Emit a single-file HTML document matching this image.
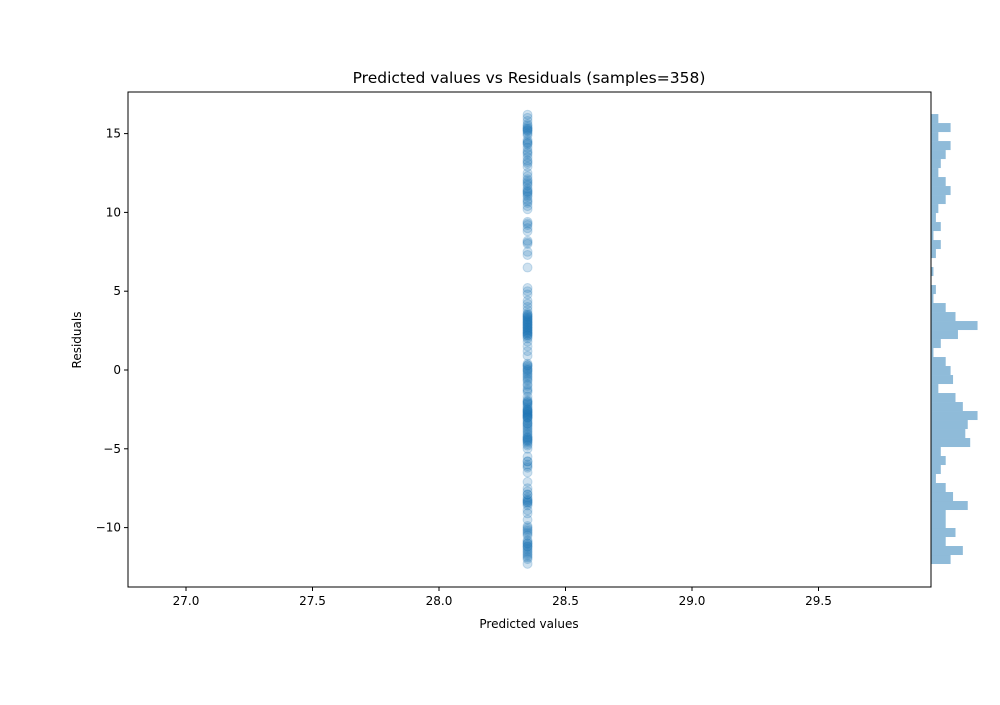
<!DOCTYPE html>
<html><head><meta charset="utf-8"><style>
html,body{margin:0;padding:0;background:#fff;}
svg text{font-family:"DejaVu Sans","Liberation Sans",sans-serif;fill:#000;}
</style></head><body>
<svg id="chart" width="1000" height="700" xmlns="http://www.w3.org/2000/svg">
<rect x="0" y="0" width="1000" height="700" fill="#fff"/>
<g id="scatter"></g>
<g id="hist"></g>
<g id="axes"></g>
<text x="529" y="83" font-size="15.5" text-anchor="middle">Predicted values vs Residuals (samples=358)</text>
<text x="529" y="628" font-size="12" text-anchor="middle">Predicted values</text>
<text transform="translate(81,340) rotate(-90)" font-size="12" text-anchor="middle">Residuals</text>
</svg>
<script>
const xTicks = [27.0, 27.5, 28.0, 28.5, 29.0, 29.5];
const xTickLabels = ["27.0", "27.5", "28.0", "28.5", "29.0", "29.5"];
const yTicks = [15, 10, 5, 0, -5, -10];
const yTickLabels = ["15", "10", "5", "0", "\u22125", "\u221210"];
const predicted = 28.35;
const residuals = [16.2,16.0,15.8,15.6,15.4,15.3,15.2,15.1,14.9,14.6,14.4,14.3,14.1,13.9,13.7,13.5,13.3,13.1,12.9,12.5,12.3,12.1,11.9,11.7,11.5,11.3,11.2,11.0,10.8,10.6,10.4,10.2,9.4,9.2,9.0,8.8,8.2,8.0,7.5,7.3,6.5,5.2,5.0,4.8,4.4,4.2,4.0,3.8,3.6,3.5,3.4,3.3,3.2,3.1,3.0,2.9,2.8,2.7,2.6,2.5,2.4,2.3,2.2,2.1,2.0,1.8,1.5,1.2,0.9,0.4,0.3,0.1,0.0,-0.1,-0.3,-0.5,-0.7,-0.9,-1.0,-1.2,-1.4,-1.7,-1.9,-2.0,-2.1,-2.2,-2.4,-2.5,-2.6,-2.7,-2.8,-2.9,-3.0,-3.1,-3.3,-3.4,-3.5,-3.7,-3.8,-4.0,-4.2,-4.3,-4.4,-4.6,-4.8,-5.0,-5.5,-5.8,-6.0,-6.2,-6.5,-7.1,-7.5,-7.7,-7.9,-8.1,-8.3,-8.4,-8.6,-8.9,-9.1,-9.5,-9.9,-10.1,-10.3,-10.5,-10.8,-11.0,-11.2,-11.4,-11.6,-11.8,-12.0,-12.3,
15.3,15.2,15.5,15.0,14.4,14.5,13.8,13.2,12.0,11.8,11.4,11.3,11.1,10.7,9.3,8.1,3.5,3.3,3.2,3.0,2.9,2.8,2.7,2.6,2.5,2.4,2.3,3.4,3.1,2.2,0.3,0.2,0.0,-0.2,-0.4,-0.6,-1.3,-2.0,-2.1,-2.3,-2.5,-2.6,-2.7,-2.8,-2.9,-3.0,-3.2,-3.4,-3.6,-3.9,-4.1,-4.3,-4.5,-4.7,-2.6,-2.8,-3.0,-4.4,-4.5,-5.8,-6.1,-7.9,-8.2,-8.3,-8.4,-8.5,-10.0,-10.2,-10.4,-11.0,-11.1,-11.3,-11.5,-11.7,-11.9,-11.2,-10.9];
const histCounts = [3,8,3,8,6,4,3,6,8,6,3,2,4,1,4,2,0,1,0,2,1,6,10,19,11,4,1,6,8,9,3,10,13,19,15,14,16,4,6,4,2,6,9,15,6,6,10,6,13,8];
const histTop = 16.24, histBinWidth = 0.571;

const NS = "http://www.w3.org/2000/svg";
const L = 128, R = 931, T = 92, B = 587;
const xScale = v => 439 + (v - 28.0) * 253;
const yScale = v => 370 - v * 15.76;
const hScale = c => c * 2.45;
function mk(tag, attrs, parent) {
  const e = document.createElementNS(NS, tag);
  for (const k in attrs) e.setAttribute(k, attrs[k]);
  parent.appendChild(e);
  return e;
}
const sc = document.getElementById('scatter');
residuals.forEach(r => {
  const c = mk('circle', {cx: xScale(predicted), cy: yScale(r), r: 4.5, fill: '#1f77b4', 'fill-opacity': 0.22, stroke: '#1f77b4', 'stroke-opacity': 0.22}, sc);
  
  
});
const hg = document.getElementById('hist');
histCounts.forEach((cnt, i) => {
  if (!cnt) return;
  const y0 = yScale(histTop - i * histBinWidth), y1 = yScale(histTop - (i + 1) * histBinWidth);
  const b = mk('rect', {x: R, y: y0, width: hScale(cnt), height: y1 - y0, fill: '#1f77b4', 'fill-opacity': 0.5}, hg);
  
  
});
const ax = document.getElementById('axes');
const frame = mk('rect', {x: L, y: T, width: R - L, height: B - T, fill: 'none', stroke: '#000', 'stroke-width': 1}, ax);


const hs = mk('line', {x1: R, y1: T, x2: R, y2: B, stroke: '#000'}, ax);


xTicks.forEach((v, i) => {
  const x = xScale(v);
  const t = mk('line', {x1: x, y1: B, x2: x, y2: B + 4, stroke: '#000'}, ax);
  
  
  const tx = mk('text', {x: x, y: B + 18, 'font-size': 12, 'text-anchor': 'middle'}, ax);
  tx.textContent = xTickLabels[i];
  
  
});
yTicks.forEach((v, i) => {
  const y = yScale(v);
  const t = mk('line', {x1: L - 4, y1: y, x2: L, y2: y, stroke: '#000'}, ax);
  
  
  const tx = mk('text', {x: L - 7, y: y + 4, 'font-size': 12, 'text-anchor': 'end'}, ax);
  tx.textContent = yTickLabels[i];
  
  
});
</script>
</body></html>
